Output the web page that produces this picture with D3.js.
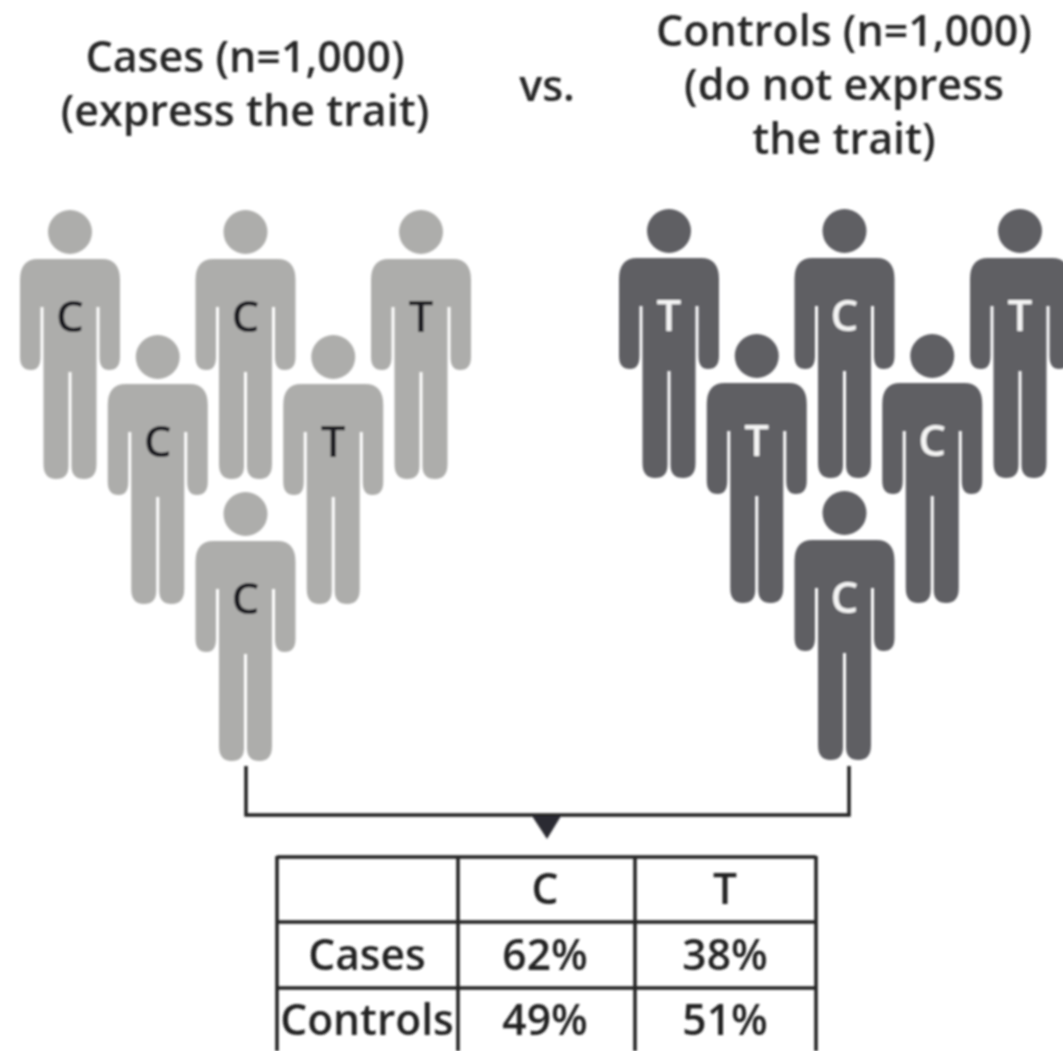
<!DOCTYPE html>
<html><head><meta charset="utf-8">
<script src="https://cdnjs.cloudflare.com/ajax/libs/d3/7.8.5/d3.min.js"></script>
<style>html,body{margin:0;padding:0;background:#fff}svg{display:block}text{font-family:"Open Sans","Noto Sans",sans-serif}</style>
</head><body><svg id="c" width="1063" height="1051"></svg>
<script>
const casesAlleles = ["C","C","C","T","T","C"];
const controlsAlleles = ["T","T","C","C","T","C"];
const personCols = [0,1,2,3,4,2];
const personRows = [0,1,0,1,0,2];
const tableColumns = ["","C","T"];
const tableRows = ["Cases","Controls"];
const casesPct = ["62%","38%"];
const controlsPct = ["49%","51%"];
const titleCases = ["Cases (n=1,000)","(express the trait)"];
const titleVs = ["vs."];
const titleControls = ["Controls (n=1,000)","(do not express","the trait)"];

const svg = d3.select("#c");
const defs = svg.append("defs");
defs.append("filter").attr("id","soft").append("feGaussianBlur").attr("stdDeviation",0.8);
const g = svg.append("g").attr("filter","url(#soft)");

function titleBlock(lines,x,y,lh){
  g.append("text").attr("text-anchor","middle").attr("fill","#262626").attr("font-size",43).attr("font-weight",600)
   .selectAll("tspan").data(lines).join("tspan").attr("x",x).attr("y",(d,i)=>y+i*lh).text(d=>d);
}
titleBlock(titleCases,245,72,54);
titleBlock(titleVs,547,101,0);
titleBlock(titleControls,844,46,54);

// person glyph in local coords, head centre at (0,0)
function personPath(){
  const p=d3.path();
  p.moveTo(-32,27);
  p.lineTo(32,27);
  p.quadraticCurveTo(50,27,50,48);
  p.lineTo(50,125);
  p.quadraticCurveTo(50,138,39,138);
  p.quadraticCurveTo(29.5,138,29.5,125);
  p.lineTo(29.5,75);
  p.lineTo(26.5,75);
  p.lineTo(26.5,232);
  p.quadraticCurveTo(26.5,247,14,247);
  p.quadraticCurveTo(1.5,247,1.5,234);
  p.lineTo(1.5,140);
  p.lineTo(-1.5,140);
  p.lineTo(-1.5,234);
  p.quadraticCurveTo(-1.5,247,-14,247);
  p.quadraticCurveTo(-26.5,247,-26.5,232);
  p.lineTo(-26.5,75);
  p.lineTo(-29.5,75);
  p.lineTo(-29.5,125);
  p.quadraticCurveTo(-29.5,138,-39,138);
  p.quadraticCurveTo(-50,138,-50,125);
  p.lineTo(-50,48);
  p.quadraticCurveTo(-50,27,-32,27);
  p.closePath();
  return p.toString();
}
const bodyD = personPath();

function group(alleles,xRange,yTop,fill,textFill){
  const x=d3.scaleLinear().domain([0,4]).range(xRange);
  const y=d3.scaleOrdinal().domain([0,1,2]).range([yTop,yTop+125,yTop+282]);
  const data=alleles.map((a,i)=>({a,c:personCols[i],r:personRows[i]}));
  const pg=g.append("g").selectAll("g").data(data).join("g")
    .attr("transform",d=>`translate(${x(d.c)},${y(d.r)})`);
  pg.append("circle").attr("r",22).attr("fill",fill);
  pg.append("path").attr("d",bodyD).attr("fill",fill);
  pg.append("text").attr("text-anchor","middle").attr("y",100).attr("font-size",44).attr("font-weight",600)
    .attr("fill",textFill).text(d=>d.a);
}
group(casesAlleles,[70,421],232,"#adadab","#1d1d22");
group(controlsAlleles,[669,1020],231,"#5f5f63","#f4f4f4");

// bracket and arrow
g.append("path").attr("d","M246,766V815H849V766").attr("fill","none").attr("stroke","#222").attr("stroke-width",3.5);
g.append("path").attr("d","M532,816H561L547,839Z").attr("fill","#2a2a30");

// table
const tg=g.append("g").attr("stroke","#222").attr("stroke-width",3.5);
const vLines=[277,458,635,816], hLines=[857,922,988];
tg.selectAll("line.v").data(vLines).join("line").attr("class","v").attr("x1",d=>d).attr("x2",d=>d).attr("y1",856).attr("y2",1051);
tg.selectAll("line.h").data(hLines).join("line").attr("class","h").attr("x1",277).attr("x2",816).attr("y1",d=>d).attr("y2",d=>d);

const cellCx=[367,545,725], rowBase=[904,970,1035];
const cells=[];
tableColumns.forEach((t,i)=>{ if(t) cells.push({x:cellCx[i],y:rowBase[0],t}); });
tableRows.forEach((t,r)=>{
  const vals=r===0?casesPct:controlsPct;
  cells.push({x:cellCx[0],y:rowBase[r+1],t});
  vals.forEach((v,c)=>cells.push({x:cellCx[c+1],y:rowBase[r+1],t:v}));
});
g.append("g").selectAll("text").data(cells).join("text")
 .attr("x",d=>d.x).attr("y",d=>d.y).attr("text-anchor","middle").attr("font-size",42.5).attr("font-weight",600).attr("fill","#222").text(d=>d.t);
</script></body></html>
